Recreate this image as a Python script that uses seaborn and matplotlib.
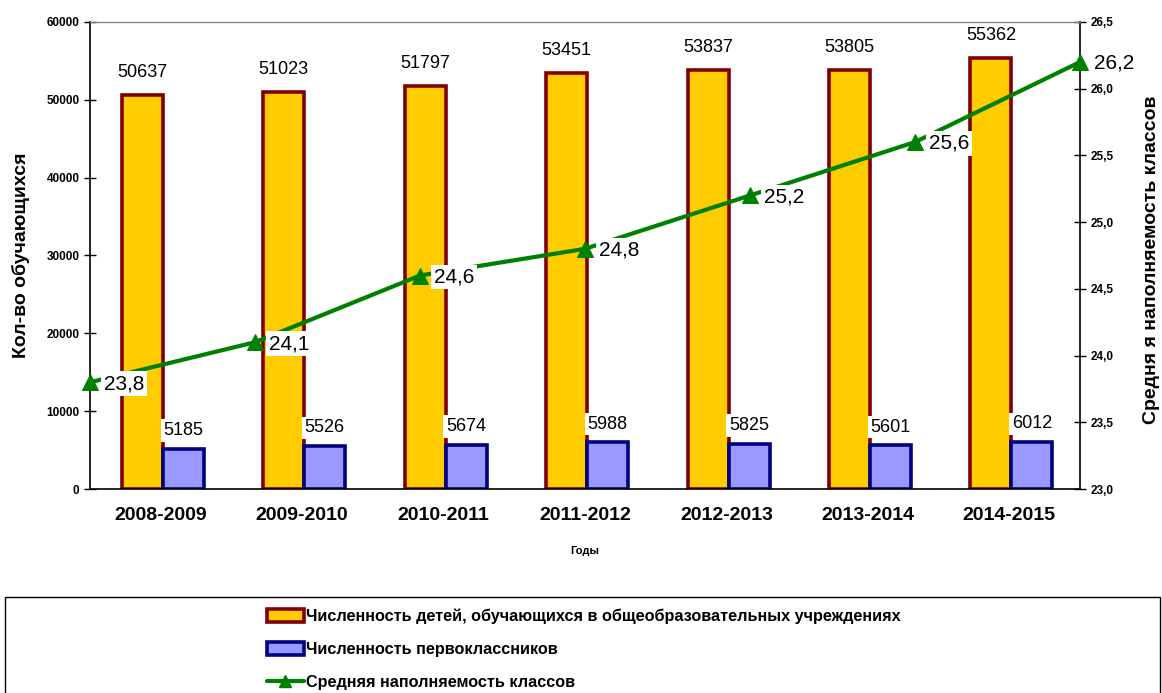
import pandas as pd, numpy as np
import matplotlib.pyplot as plt
import matplotlib as mpl
import seaborn as sns
from matplotlib.patches import Rectangle, Patch
from matplotlib.lines import Line2D

# data
years = ['2008-2009', '2009-2010', '2010-2011', '2011-2012', '2012-2013', '2013-2014', '2014-2015']
pupils = [50637, 51023, 51797, 53451, 53837, 53805, 55362]
first_graders = [5185, 5526, 5674, 5988, 5825, 5601, 6012]
class_size = [23.8, 24.1, 24.6, 24.8, 25.2, 25.6, 26.2]

S1 = 'Численность детей, обучающихся в общеобразовательных учреждениях'
S2 = 'Численность первоклассников'
S3 = 'Средняя наполняемость классов'

YEL, YEL_E, BLU, BLU_E, GRN = '#FFCC00', '#800000', '#9999FF', '#000080', '#008000'

sns.set_style('white')
mpl.rcParams['font.family'] = ['Liberation Sans', 'DejaVu Sans']
mpl.rcParams.update({'text.color': 'black', 'axes.labelcolor': 'black',
                     'xtick.color': 'black', 'ytick.color': 'black'})

df = pd.DataFrame({'year': years * 2, 'value': pupils + first_graders,
                   'series': [S1] * 7 + [S2] * 7})

fig = plt.figure(figsize=(11.62, 6.93), dpi=100)
ax = fig.add_axes([90/1162, 1-489/693, 990/1162, 467/693])

sns.barplot(data=df, x='year', y='value', hue='series', palette=[YEL, BLU],
            width=0.58, legend=False, ax=ax, saturation=1)
for cont, ec in zip(ax.containers, [YEL_E, BLU_E]):
    for b in cont:
        b.set_edgecolor(ec); b.set_linewidth(2.6)
        b.set_x(b.get_x() + 0.015)
ax.bar_label(ax.containers[0], fmt='%d', padding=10, fontsize=13)
for t in ax.bar_label(ax.containers[1], fmt='%d', padding=7, fontsize=13):
    t.set_bbox(dict(facecolor='white', edgecolor='none', pad=2))

ax.set_ylim(0, 60000)
ax.set_xlim(-0.5, 6.5)
ax.set_yticks(range(0, 60001, 10000))
ax.set_xticks(np.arange(-0.5, 7, 1), minor=False)
ax.set_xticklabels([])
ax.set_xticks(range(7), minor=True)
ax.set_xticklabels(years, minor=True, fontsize=14, fontweight='bold')
ax.tick_params(axis='x', which='minor', length=0, pad=13)
ax.tick_params(axis='x', which='major', direction='inout', length=8, width=1)
ax.tick_params(axis='y', direction='inout', length=8, width=1, labelsize=8.5)
for lab in ax.get_yticklabels():
    lab.set_fontweight('bold')
ax.set_xlabel('Годы', fontsize=8, fontweight='bold', labelpad=16)
ax.set_ylabel('Кол-во обучающихся', fontsize=14, fontweight='bold', labelpad=12)
for s in ['left', 'bottom']:
    ax.spines[s].set_color('black'); ax.spines[s].set_linewidth(1.2)
ax.spines['top'].set_color('#808080')
ax.spines['right'].set_visible(False)

# secondary y axis
ax2 = ax.twinx()
ax2.set_ylim(23.0, 26.5)
ax2.set_yticks(np.arange(23.0, 26.51, 0.5))
ax2.set_yticklabels([f'{v:.1f}'.replace('.', ',') for v in np.arange(23.0, 26.51, 0.5)],
                    fontsize=8.5, fontweight='bold')
ax2.tick_params(axis='y', direction='inout', length=8, width=1)
ax2.set_ylabel('Средня я наполняемость классов', fontsize=14, fontweight='bold')
ax2.yaxis.set_label_coords(1.064, 0.49)
ax2.spines['right'].set_color('black'); ax2.spines['right'].set_linewidth(1.2)
ax2.spines['top'].set_color('#808080')
for s in ['left', 'bottom']:
    ax2.spines[s].set_visible(False)

# line on its own x scale (points spread edge to edge)
ax3 = ax2.twiny()
ldf = pd.DataFrame({'pos': range(7), 'size': class_size})
sns.lineplot(data=ldf, x='pos', y='size', color=GRN, lw=3, marker='^', ms=12,
             mec=GRN, ax=ax3, clip_on=False)
ax3.set_xlim(0, 6)
ax3.set_xticks([]); ax3.set_xlabel('')
ax3.set_ylabel('')
for s in ax3.spines.values():
    s.set_visible(False)
ax3.spines['top'].set_visible(True); ax3.spines['top'].set_color('#808080')
for i, v in enumerate(class_size):
    ax3.annotate(f'{v:.1f}'.replace('.', ','), (i, v), xytext=(10, -1),
                 textcoords='offset points', ha='left', va='center', fontsize=15,
                 bbox=dict(facecolor='white', edgecolor='none', pad=2),
                 annotation_clip=False)

# legend box
fig.add_artist(Rectangle((5/1162, -0.05), 1155/1162, 0.05 + 1-597/693,
                         transform=fig.transFigure, fill=False, edgecolor='black', lw=1))
handles = [Patch(facecolor=YEL, edgecolor=YEL_E, lw=2.6),
           Patch(facecolor=BLU, edgecolor=BLU_E, lw=2.6),
           Line2D([], [], color=GRN, lw=3, marker='^', ms=9)]
fig.legend(handles, [S1, S2, S3], loc='upper left', bbox_to_anchor=(252/1162, 1-594/693),
           frameon=False, handlelength=2.3, handleheight=0.9, handletextpad=0.15,
           labelspacing=1.08, prop={'weight': 'bold', 'size': 11.7})

plt.savefig('out.png', dpi=100)
